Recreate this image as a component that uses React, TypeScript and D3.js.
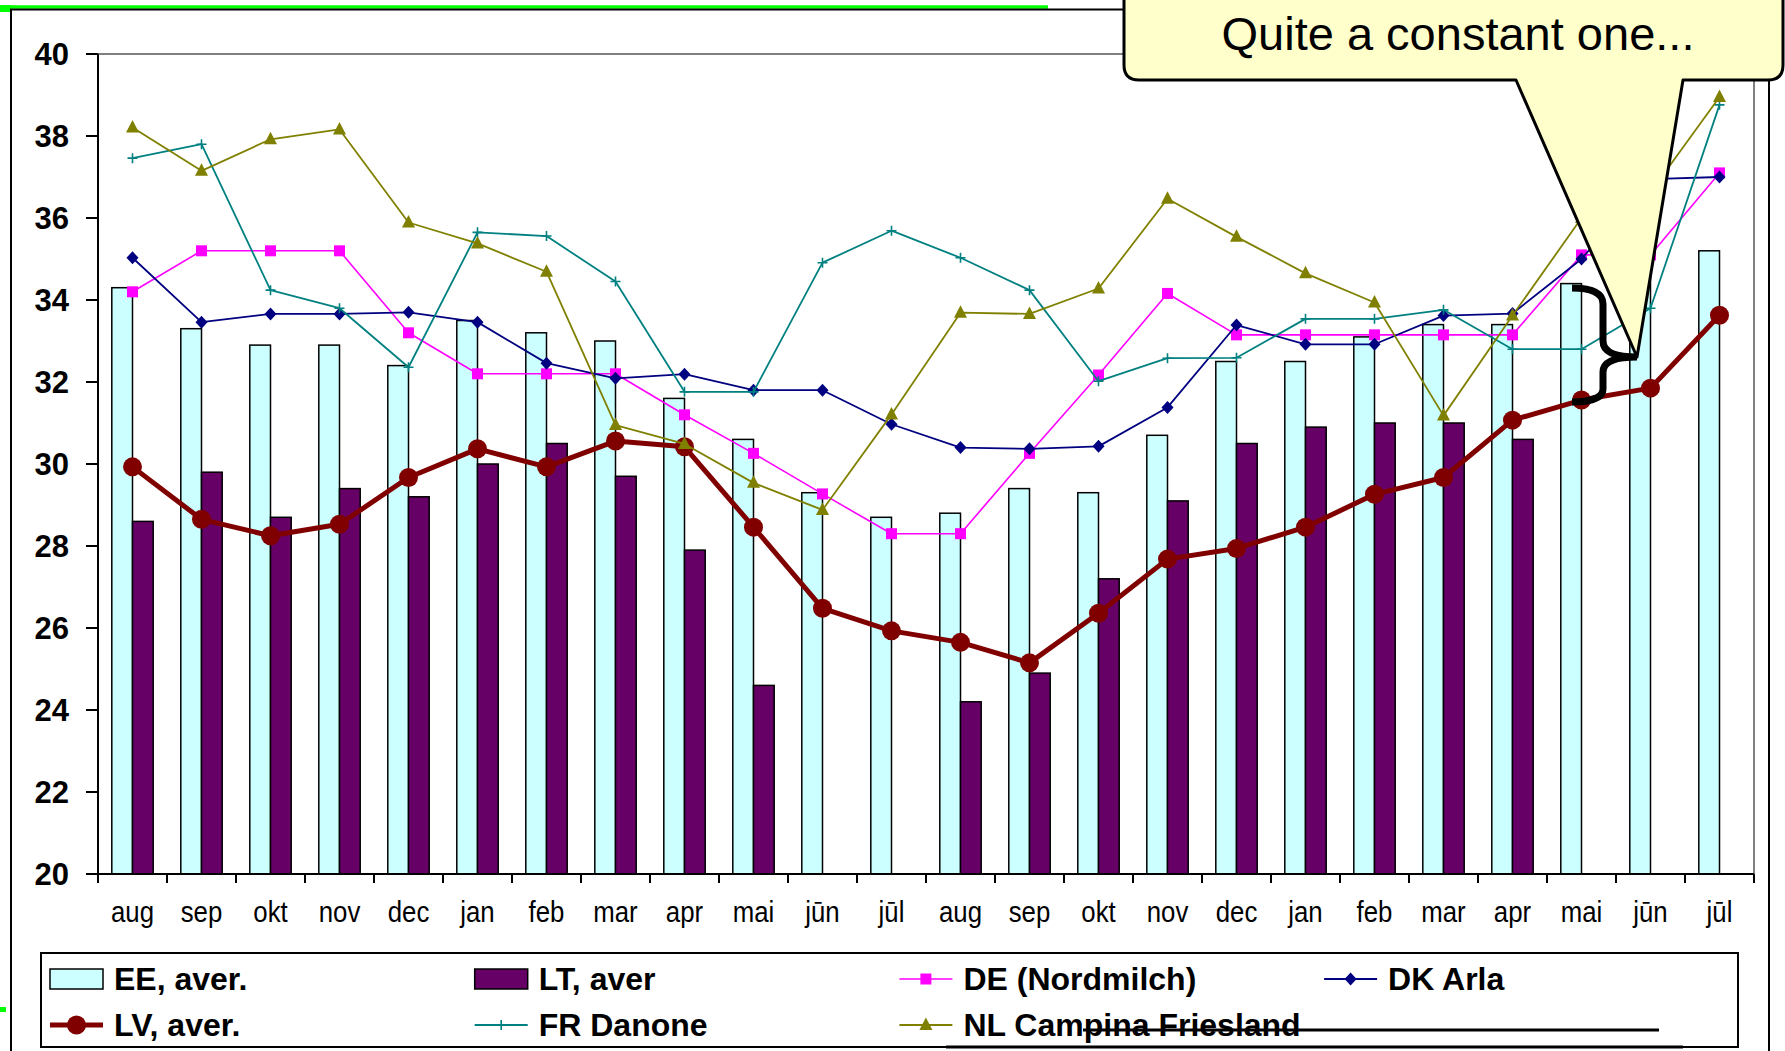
import React from "react";
import * as d3 from "d3";

const categories = ["aug","sep","okt","nov","dec","jan","feb","mar","apr","mai","jūn","jūl","aug","sep","okt","nov","dec","jan","feb","mar","apr","mai","jūn","jūl"];
const eeAver = [34.3,33.3,32.9,32.9,32.4,33.5,33.2,33.0,31.6,30.6,29.3,28.7,28.8,29.4,29.3,30.7,32.5,32.5,33.1,33.4,33.4,34.4,34.8,35.2];
const ltAver = [28.6,29.8,28.7,29.4,29.2,30.0,30.5,29.7,27.9,24.6,null,null,24.2,24.9,27.2,29.1,30.5,30.9,31.0,31.0,30.6,null,null,null];
const lvAver = [29.93,28.65,28.25,28.53,29.67,30.37,29.93,30.56,30.42,28.46,26.48,25.93,25.65,25.15,26.36,27.68,27.94,28.46,29.26,29.67,31.07,31.56,31.85,33.63];
const deNordmilch = [34.2,35.2,35.2,35.2,33.2,32.2,32.2,32.2,31.2,30.26,29.27,28.3,28.3,30.26,32.17,34.16,33.15,33.15,33.15,33.15,33.15,35.1,35.1,37.1];
const dkArla = [35.03,33.46,33.66,33.66,33.7,33.46,32.46,32.09,32.19,31.8,31.8,30.97,30.4,30.37,30.43,31.38,33.39,32.92,32.92,33.62,33.67,35.0,36.95,37.0];
const frDanone = [37.46,37.8,34.24,33.8,32.36,35.65,35.56,34.45,31.76,31.76,34.91,35.69,35.03,34.24,32.02,32.58,32.59,33.54,33.54,33.76,32.8,32.8,33.8,38.76];
const nlCampina = [38.21,37.15,37.92,38.16,35.89,35.38,34.69,30.95,30.49,29.54,28.88,31.21,33.69,33.66,34.28,36.47,35.54,34.65,33.94,31.18,33.62,36.0,36.63,38.95];
const yTicks = [20,22,24,26,28,30,32,34,36,38,40];
const calloutText = "Quite a constant one...";

const FONT = "'Liberation Sans', Arial, Helvetica, sans-serif";
const C = { ee: "#CCFFFF", lt: "#660066", lv: "#800000", de: "#FF00FF", dk: "#000080", fr: "#008080", nl: "#808000" };

type MarkerKind = "circle" | "square" | "diamond" | "plus" | "triangle";

function Marker({ kind, cx, cy, color }: { kind: MarkerKind; cx: number; cy: number; color: string }) {
  if (kind === "circle") return <circle cx={cx} cy={cy} r={9.5} fill={color} />;
  if (kind === "square") return <rect x={cx - 5.5} y={cy - 5.5} width={11} height={11} fill={color} />;
  if (kind === "diamond") return <path d={`M${cx},${cy - 6.5}L${cx + 6},${cy}L${cx},${cy + 6.5}L${cx - 6},${cy}Z`} fill={color} />;
  if (kind === "triangle") return <path d={`M${cx},${cy - 7.5}L${cx + 6.5},${cy + 5}L${cx - 6.5},${cy + 5}Z`} fill={color} />;
  return <path d={`M${cx - 5},${cy}H${cx + 5}M${cx},${cy - 5}V${cy + 5}`} stroke={color} strokeWidth={1.6} fill="none" />;
}

export default function App() {
  const W = 1785, H = 1051;
  const left = 98, right = 1754, top = 54, bottom = 874;
  const idx = categories.map((_, i) => i);
  const x = d3.scaleBand<number>().domain(idx).range([left, right]).paddingInner(0.4).paddingOuter(0.2);
  const step = x.step();
  const bw = x.bandwidth();
  const xc = (i: number) => (x(i) as number) + bw / 2;
  const y = d3.scaleLinear().domain([20, 40]).range([bottom, top]);

  const lineGen = d3.line<number | null>()
    .defined((d) => d != null)
    .x((_, i) => xc(i))
    .y((d) => y(d as number));

  const lines: { data: (number | null)[]; color: string; width: number; kind: MarkerKind }[] = [
    { data: lvAver, color: C.lv, width: 5, kind: "circle" },
    { data: deNordmilch, color: C.de, width: 1.6, kind: "square" },
    { data: dkArla, color: C.dk, width: 1.8, kind: "diamond" },
    { data: frDanone, color: C.fr, width: 1.8, kind: "plus" },
    { data: nlCampina, color: C.nl, width: 1.8, kind: "triangle" },
  ];

  const legendItems: { label: string; type: "bar" | "line"; color: string; kind?: MarkerKind; width?: number }[] = [
    { label: "EE, aver.", type: "bar", color: C.ee },
    { label: "LT, aver", type: "bar", color: C.lt },
    { label: "DE (Nordmilch)", type: "line", color: C.de, kind: "square", width: 1.6 },
    { label: "DK Arla", type: "line", color: C.dk, kind: "diamond", width: 1.8 },
    { label: "LV, aver.", type: "line", color: C.lv, kind: "circle", width: 5 },
    { label: "FR Danone", type: "line", color: C.fr, kind: "plus", width: 1.8 },
    { label: "NL Campina Friesland", type: "line", color: C.nl, kind: "triangle", width: 1.8 },
  ];
  const legX0 = 50, legColW = 424.7, legRowY = [979, 1025];

  // callout geometry
  const cl = 1124, cr = 1783, ct = -30, cb = 80, rr = 15;
  const pL = 1516, pR = 1683, tipX = 1637, tipY = 357;
  const calloutPath = `M${cl},${ct} H${cr - rr} Q${cr},${ct} ${cr},${ct + rr} V${cb - rr} Q${cr},${cb} ${cr - rr},${cb} H${pR} L${tipX},${tipY} L${pL},${cb} H${cl + rr} Q${cl},${cb} ${cl},${cb - rr} Z`;

  return (
    <svg width={W} height={H} style={{ position: "fixed", left: 0, top: 0, background: "#fff" }} fontFamily={FONT}>
      <rect x={0} y={0} width={W} height={H} fill="#fff" />
      {/* slide artifacts */}
      <line x1={0} x2={1048} y1={7} y2={7} stroke="#00FF00" strokeWidth={3.5} />
      <rect x={0} y={5} width={11} height={7} fill="#00FF00" />
      <rect x={0} y={1007} width={6} height={5} fill="#00FF00" />
      {/* outer border */}
      <path d={`M11,${H + 5} V9.5 H1769 V${H + 5}`} fill="none" stroke="#000" strokeWidth={2} />

      {/* plot area frame */}
      <path d={`M${left},${top} H${right} V${bottom}`} fill="none" stroke="#808080" strokeWidth={2} />

      {/* bars */}
      {eeAver.map((v, i) => (
        <rect key={"ee" + i} x={x(i) as number} y={y(v)} width={bw / 2} height={y(20) - y(v)} fill={C.ee} stroke="#000" strokeWidth={1.5} />
      ))}
      {ltAver.map((v, i) => v == null ? null : (
        <rect key={"lt" + i} x={(x(i) as number) + bw / 2} y={y(v)} width={bw / 2} height={y(20) - y(v)} fill={C.lt} stroke="#000" strokeWidth={1.5} />
      ))}

      {/* axes */}
      <line x1={left} x2={left} y1={top} y2={bottom} stroke="#000" strokeWidth={2} />
      <line x1={left} x2={right} y1={bottom} y2={bottom} stroke="#000" strokeWidth={2} />
      {yTicks.map((t) => (
        <g key={"yt" + t}>
          <line x1={left - 12} x2={left} y1={y(t)} y2={y(t)} stroke="#000" strokeWidth={2} />
          <text x={69} y={y(t)} dy="0.36em" textAnchor="end" fontWeight="bold" fontSize={31} fill="#000">{t}</text>
        </g>
      ))}
      {d3.range(categories.length + 1).map((k) => (
        <line key={"xt" + k} x1={left + k * step} x2={left + k * step} y1={bottom} y2={bottom + 9} stroke="#000" strokeWidth={2} />
      ))}
      {categories.map((c, i) => (
        <g key={"xl" + i} transform={`translate(${xc(i)},922) scale(0.86,1)`}>
          <text x={0} y={0} textAnchor="middle" fontSize={30} fill="#000">{c}</text>
        </g>
      ))}

      {/* lines */}
      {lines.map((s, si) => (
        <g key={"ln" + si}>
          <path d={lineGen(s.data) || ""} fill="none" stroke={s.color} strokeWidth={s.width} strokeLinejoin="round" />
          {s.data.map((v, i) => v == null ? null : <Marker key={i} kind={s.kind} cx={xc(i)} cy={y(v)} color={s.color} />)}
        </g>
      ))}

      {/* legend */}
      <rect x={41} y={953} width={1697} height={94} fill="#fff" stroke="#000" strokeWidth={2} />
      {legendItems.map((it, k) => {
        const col = k % 4, row = Math.floor(k / 4);
        const sx = legX0 + col * legColW;
        const cy = legRowY[row];
        return (
          <g key={"lg" + k}>
            {it.type === "bar" ? (
              <rect x={sx} y={cy - 10} width={53} height={20} fill={it.color} stroke="#000" strokeWidth={1.5} />
            ) : (
              <g>
                <line x1={sx} x2={sx + 53} y1={cy} y2={cy} stroke={it.color} strokeWidth={it.width} />
                <Marker kind={it.kind as MarkerKind} cx={sx + 26.5} cy={cy} color={it.color} />
              </g>
            )}
            <text x={sx + 64} y={cy + 11} fontSize={32} fontWeight="bold" fill="#000">{it.label}</text>
          </g>
        );
      })}
      <line x1={1083} x2={1659} y1={1030} y2={1030} stroke="#000" strokeWidth={3} />
      <line x1={946} x2={1683} y1={1047} y2={1047} stroke="#000" strokeWidth={3} />

      {/* brace */}
      <path d="M1572,288 C1590,288 1603,292 1603,304 L1603,341 C1603,352 1614,357 1637,357 C1614,357 1603,362 1603,372 L1603,389 C1603,398 1590,402 1572,402" fill="none" stroke="#000" strokeWidth={7} />

      {/* callout */}
      <path d={calloutPath} fill="#FFFFCC" stroke="#000" strokeWidth={3} strokeLinejoin="round" />
      <text x={1458} y={50} textAnchor="middle" fontSize={47} fill="#000">{calloutText}</text>
    </svg>
  );
}
